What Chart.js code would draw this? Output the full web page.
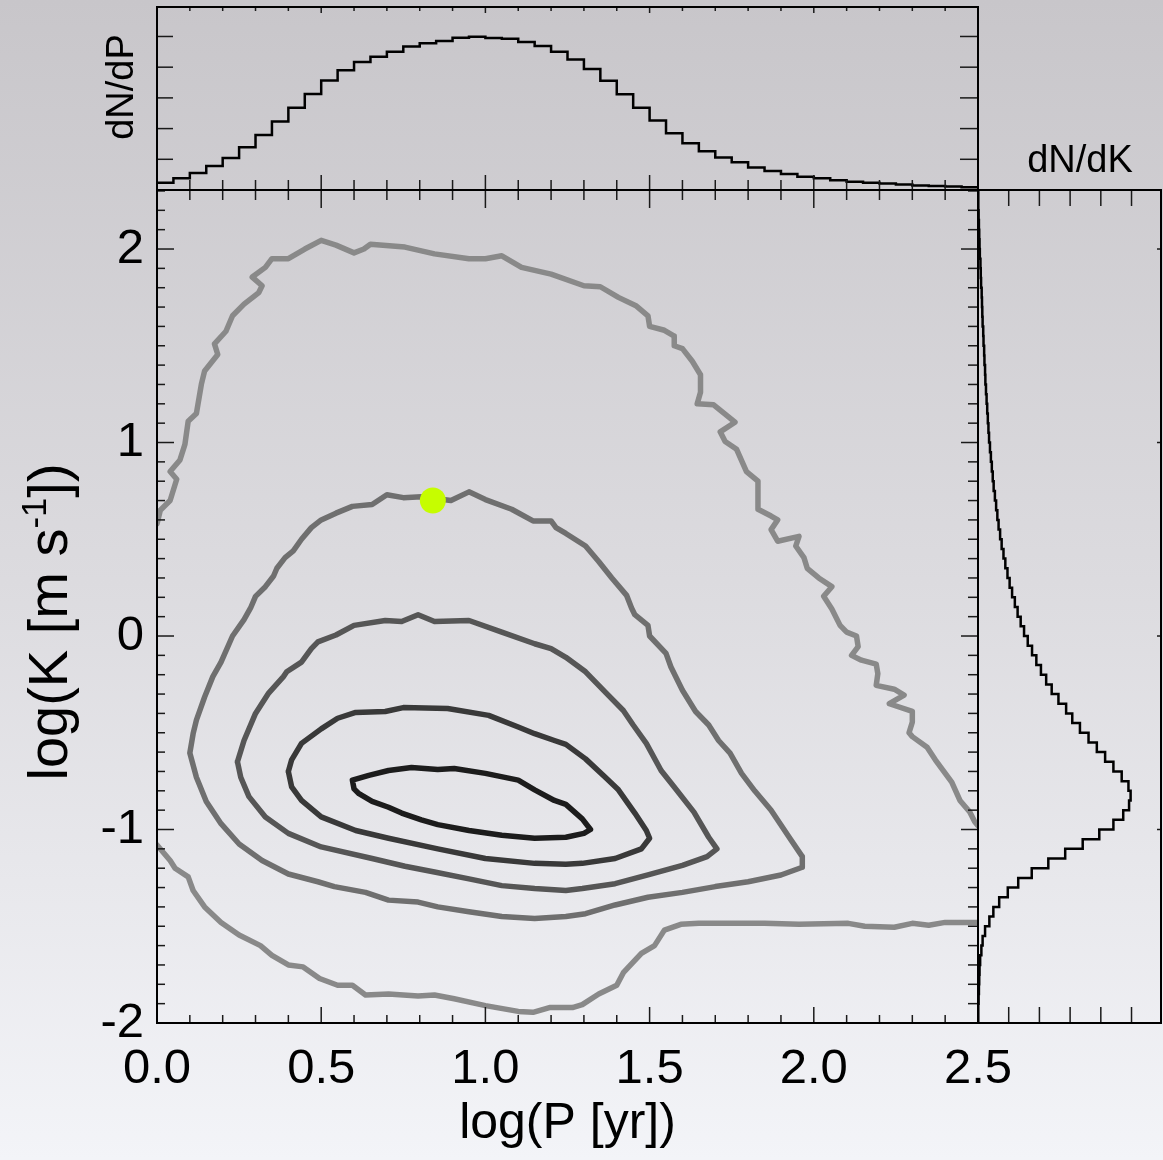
<!DOCTYPE html>
<html>
<head>
<meta charset="utf-8">
<script src="https://cdn.jsdelivr.net/npm/chart.js@4.4.1/dist/chart.umd.min.js"></script>
<style>
  html, body { margin: 0; padding: 0; }
  body {
    width: 1163px; height: 1160px; overflow: hidden; position: relative;
    background: linear-gradient(to bottom, #c8c6ca 0%, #dcdbdf 50%, #f3f4f8 100%);
  }
  canvas { position: absolute; left: 0; top: 0; }
</style>
</head>
<body>
<canvas id="mainChart" width="1163" height="1160"></canvas>
<canvas id="topChart" width="1163" height="1160"></canvas>
<canvas id="sideChart" width="1163" height="1160"></canvas>
<script>
// axis ticks
const pTicks = [0.0, 0.5, 1.0, 1.5, 2.0, 2.5];
const kTicks = [-2, -1, 0, 1, 2];

// marginal histogram of log P (bins of 0.05 starting at 0)
const pBinStart = 0;
const pBinWidth = 0.05;
const dNdP = [0.24, 0.38, 0.55, 0.78, 1.04, 1.39, 1.79, 2.23, 2.68, 3.13,
              3.57, 3.90, 4.17, 4.34, 4.50, 4.67, 4.78, 4.85, 4.96, 4.99,
              4.95, 4.93, 4.82, 4.69, 4.50, 4.25, 3.94, 3.56, 3.12, 2.68,
              2.26, 1.85, 1.52, 1.26, 1.06, 0.90, 0.73, 0.62, 0.52, 0.43,
              0.38, 0.32, 0.27, 0.24, 0.21, 0.18, 0.15, 0.13, 0.11, 0.09];

// marginal histogram of log K (bins of 0.05 starting at -2)
const kBinStart = -2;
const kBinWidth = 0.05;
const dNdK = [0.01, 0.01, 0.02, 0.03, 0.04, 0.05, 0.07, 0.11, 0.15, 0.23,
              0.37, 0.50, 0.69, 0.97, 1.31, 1.75, 2.29, 2.84, 3.41, 3.95,
              4.41, 4.73, 4.92, 4.97, 4.90, 4.68, 4.41, 4.14, 3.87, 3.60,
              3.32, 3.07, 2.87, 2.62, 2.40, 2.22, 2.05, 1.90, 1.76, 1.62,
              1.50, 1.39, 1.29, 1.20, 1.11, 1.03, 0.96, 0.89, 0.83, 0.77,
              0.72, 0.67, 0.63, 0.59, 0.55, 0.51, 0.48, 0.45, 0.42, 0.39,
              0.36, 0.34, 0.32, 0.30, 0.28, 0.26, 0.24, 0.23, 0.21, 0.20,
              0.18, 0.17, 0.15, 0.14, 0.13, 0.12, 0.10, 0.09, 0.08, 0.06,
              0.05, 0.04, 0.03, 0.02, 0.01, 0.01];

// best fit point [log P, log K]
const bestFit = [0.84, 0.70];

// contour levels, [log P, log K] pairs, outermost first
const outerUpper = [[0.0,0.58],[0.01,0.65],[0.04,0.70],[0.06,0.81],[0.04,0.85],[0.07,0.91],[0.085,0.99],
  [0.095,1.11],[0.12,1.15],[0.135,1.30],[0.145,1.37],[0.185,1.455],[0.175,1.51],[0.21,1.575],[0.23,1.655],
  [0.265,1.715],[0.31,1.775],[0.32,1.81],[0.29,1.855],[0.33,1.905],[0.35,1.95],[0.40,1.95],[0.45,2.0],
  [0.50,2.045],[0.545,2.02],[0.60,1.98],[0.63,2.0],[0.65,2.025],[0.755,2.01],[0.845,1.975],[0.95,1.95],
  [1.0,1.95],[1.05,1.965],[1.11,1.905],[1.20,1.87],[1.30,1.81],[1.35,1.805],[1.405,1.75],[1.46,1.705],
  [1.495,1.655],[1.50,1.60],[1.545,1.58],[1.575,1.55],[1.575,1.50],[1.60,1.485],[1.63,1.42],[1.655,1.35],
  [1.655,1.26],[1.645,1.20],[1.695,1.195],[1.76,1.105],[1.715,1.055],[1.73,1.005],[1.765,0.965],
  [1.795,0.85],[1.83,0.80],[1.83,0.655],[1.87,0.62],[1.89,0.60],[1.87,0.55],[1.89,0.49],[1.955,0.515],
  [1.945,0.465],[1.97,0.405],[1.98,0.35],[2.015,0.30],[2.055,0.255],[2.03,0.205],[2.055,0.14],
  [2.08,0.055],[2.10,0.02],[2.13,0.0],[2.135,-0.055],[2.115,-0.10],[2.145,-0.125],[2.19,-0.145],
  [2.195,-0.195],[2.19,-0.255],[2.245,-0.275],[2.275,-0.305],[2.23,-0.35],[2.30,-0.39],[2.30,-0.445],
  [2.29,-0.50],[2.30,-0.52],[2.345,-0.575],[2.37,-0.64],[2.42,-0.755],[2.445,-0.85],[2.475,-0.91],
  [2.49,-0.96],[2.5,-0.98]];
const outerLower = [[0,-1.08],[0.04,-1.16],[0.055,-1.20],[0.095,-1.245],[0.11,-1.315],[0.145,-1.40],
  [0.195,-1.48],[0.25,-1.545],[0.315,-1.60],[0.35,-1.65],[0.40,-1.70],[0.445,-1.71],[0.495,-1.77],
  [0.55,-1.805],[0.595,-1.805],[0.635,-1.855],[0.705,-1.85],[0.795,-1.86],[0.845,-1.855],[0.905,-1.875],
  [1.0,-1.91],[1.10,-1.94],[1.145,-1.945],[1.195,-1.92],[1.265,-1.92],[1.295,-1.905],[1.345,-1.85],
  [1.40,-1.805],[1.42,-1.74],[1.475,-1.64],[1.515,-1.60],[1.545,-1.52],[1.595,-1.49],[1.65,-1.485],
  [1.85,-1.485],[1.955,-1.49],[2.105,-1.485],[2.155,-1.50],[2.245,-1.505],[2.30,-1.485],[2.35,-1.495],
  [2.40,-1.48],[2.5,-1.48]];
const level2 = [[0.285,0.145],[0.30,0.205],[0.33,0.255],[0.355,0.31],[0.365,0.35],[0.39,0.405],
  [0.415,0.44],[0.44,0.50],[0.47,0.56],[0.50,0.60],[0.545,0.635],[0.595,0.67],[0.655,0.68],[0.70,0.73],
  [0.75,0.715],[0.805,0.72],[0.895,0.70],[0.95,0.745],[1.0,0.705],[1.08,0.655],[1.145,0.595],[1.20,0.595],
  [1.215,0.56],[1.245,0.53],[1.305,0.465],[1.345,0.385],[1.385,0.30],[1.43,0.21],[1.445,0.145],
  [1.455,0.11],[1.495,0.055],[1.50,0.0],[1.55,-0.09],[1.565,-0.16],[1.60,-0.28],[1.64,-0.39],[1.68,-0.46],
  [1.71,-0.54],[1.745,-0.605],[1.78,-0.71],[1.82,-0.80],[1.87,-0.90],[1.925,-1.04],[1.965,-1.14],
  [1.965,-1.195],[1.90,-1.235],[1.80,-1.27],[1.70,-1.295],[1.60,-1.325],[1.495,-1.35],[1.395,-1.39],
  [1.305,-1.435],[1.245,-1.45],[1.15,-1.46],[1.05,-1.45],[0.95,-1.425],[0.855,-1.40],[0.795,-1.375],
  [0.705,-1.365],[0.635,-1.325],[0.54,-1.295],[0.49,-1.27],[0.40,-1.23],[0.32,-1.16],[0.25,-1.075],
  [0.195,-0.97],[0.15,-0.855],[0.12,-0.73],[0.10,-0.605],[0.11,-0.505],[0.12,-0.435],[0.145,-0.315],
  [0.17,-0.21],[0.195,-0.135],[0.23,0.0],[0.265,0.085],[0.285,0.145]];
const level3 = [[0.245,-0.65],[0.265,-0.54],[0.30,-0.40],[0.34,-0.295],[0.385,-0.21],[0.395,-0.185],
  [0.44,-0.135],[0.47,-0.065],[0.49,-0.03],[0.545,0.005],[0.60,0.055],[0.695,0.08],[0.745,0.075],
  [0.795,0.11],[0.845,0.075],[0.95,0.08],[1.05,0.02],[1.15,-0.04],[1.20,-0.065],[1.245,-0.11],
  [1.305,-0.185],[1.365,-0.29],[1.42,-0.385],[1.45,-0.46],[1.49,-0.555],[1.535,-0.695],[1.575,-0.78],
  [1.635,-0.91],[1.68,-1.04],[1.705,-1.10],[1.675,-1.14],[1.60,-1.185],[1.495,-1.235],[1.395,-1.28],
  [1.295,-1.305],[1.245,-1.315],[1.15,-1.305],[1.05,-1.29],[0.95,-1.255],[0.845,-1.22],[0.755,-1.19],
  [0.655,-1.15],[0.50,-1.09],[0.40,-1.02],[0.33,-0.935],[0.28,-0.83],[0.255,-0.73],[0.245,-0.65]];
const level4 = [[0.40,-0.70],[0.41,-0.64],[0.44,-0.555],[0.50,-0.48],[0.55,-0.425],[0.605,-0.395],
  [0.695,-0.39],[0.75,-0.37],[0.885,-0.375],[1.01,-0.41],[1.10,-0.47],[1.15,-0.505],[1.21,-0.54],
  [1.245,-0.56],[1.305,-0.635],[1.365,-0.73],[1.405,-0.795],[1.455,-0.915],[1.49,-1.005],[1.50,-1.045],
  [1.475,-1.10],[1.395,-1.15],[1.295,-1.175],[1.245,-1.18],[1.15,-1.175],[1.0,-1.15],[0.855,-1.10],
  [0.705,-1.045],[0.605,-1.005],[0.50,-0.935],[0.44,-0.85],[0.41,-0.78],[0.40,-0.70]];
const level5 = [[0.595,-0.745],[0.645,-0.72],[0.705,-0.695],[0.775,-0.68],[0.855,-0.69],[0.905,-0.685],
  [1.0,-0.71],[1.10,-0.745],[1.15,-0.795],[1.21,-0.85],[1.245,-0.87],[1.295,-0.945],[1.32,-1.0],
  [1.30,-1.02],[1.245,-1.04],[1.15,-1.045],[1.05,-1.03],[0.95,-1.005],[0.855,-0.975],[0.805,-0.95],
  [0.745,-0.915],[0.705,-0.885],[0.655,-0.855],[0.615,-0.815],[0.60,-0.79],[0.595,-0.745]];

const contours = [outerUpper, outerLower, level2, level3, level4, level5];
const contourColors = ['#898989', '#898989', '#6f6f6f', '#565656', '#393939', '#1c1c1c'];

const FONT = 'Liberation Sans, Arial, Helvetica, sans-serif';
Chart.defaults.font.family = FONT;
Chart.defaults.color = '#000';

// frame box, inward tick marks and panel labels (parts may be superscript)
const frameTicks = {
    id: 'frameTicks',
    afterDatasetsDraw(chart, args, opts) {
        const { ctx, chartArea: a, scales } = chart;
        ctx.save();
        ctx.strokeStyle = '#1a1a1a';
        ctx.lineWidth = 1.5;
        (opts.marks || []).forEach(m => {
            const sc = scales[m.scale];
            const n = Math.round((m.to - m.from) / m.step);
            for (let i = 0; i <= n; i++) {
                const p = sc.getPixelForValue(m.from + i * m.step);
                const len = (m.every && i % m.every === 0) ? m.major : m.minor;
                ctx.beginPath();
                if (m.side === 'bottom') { ctx.moveTo(p, a.bottom); ctx.lineTo(p, a.bottom - len); }
                if (m.side === 'top') { ctx.moveTo(p, a.top); ctx.lineTo(p, a.top + len); }
                if (m.side === 'left') { ctx.moveTo(a.left, p); ctx.lineTo(a.left + len, p); }
                if (m.side === 'right') { ctx.moveTo(a.right, p); ctx.lineTo(a.right - len, p); }
                ctx.stroke();
            }
        });
        ctx.strokeStyle = '#000';
        ctx.lineWidth = 2;
        ctx.strokeRect(a.left, a.top, a.width, a.height);

        (opts.labels || []).forEach(l => {
            ctx.save();
            ctx.fillStyle = '#000';
            ctx.textAlign = 'left';
            ctx.textBaseline = 'alphabetic';
            ctx.translate(a.left + l.dx, a.top + l.dy);
            if (l.rotate) ctx.rotate(l.rotate);
            const parts = l.parts.map(p => {
                const size = p.sup ? l.size * 0.62 : l.size;
                ctx.font = size + 'px ' + FONT;
                return { ...p, size, w: ctx.measureText(p.t).width };
            });
            let x = -parts.reduce((s, p) => s + p.w, 0) / 2;
            parts.forEach(p => {
                ctx.font = p.size + 'px ' + FONT;
                ctx.fillText(p.t, x, p.sup ? -l.size * 0.38 : 0);
                x += p.w;
            });
            ctx.restore();
        });
        ctx.restore();
    }
};

const baseOpts = {
    responsive: false,
    animation: false,
    devicePixelRatio: 1,
    events: [],
};

// main contour panel
new Chart(document.getElementById('mainChart'), {
    type: 'scatter',
    plugins: [frameTicks],
    data: {
        datasets: [
            {
                data: [{ x: bestFit[0], y: bestFit[1] }],
                pointRadius: 13,
                backgroundColor: '#c6fd00',
                borderWidth: 0,
                showLine: false
            },
            ...contours.map((c, i) => ({
                data: c.map(([x, y]) => ({ x, y })),
                showLine: true,
                pointRadius: 0,
                borderColor: contourColors[i],
                borderWidth: 5.5,
                borderJoinStyle: 'round',
                borderCapStyle: 'round',
                tension: 0
            }))
        ]
    },
    options: {
        ...baseOpts,
        layout: { padding: { left: 0, top: 190, right: 185, bottom: 0 } },
        plugins: {
            legend: { display: false },
            tooltip: { enabled: false },
            frameTicks: {
                marks: [
                    { scale: 'x', side: 'bottom', from: 0, to: 2.5, step: 0.1, every: 5, minor: 8, major: 16 },
                    { scale: 'x', side: 'top', from: 0, to: 2.5, step: 0.1, every: 5, minor: 10, major: 18 },
                    { scale: 'y', side: 'left', from: -2, to: 2.3, step: 0.1, every: 10, minor: 8, major: 17 },
                    { scale: 'y', side: 'right', from: -2, to: 2.3, step: 0.1, every: 10, minor: 10, major: 17 }
                ],
                labels: [{
                    parts: [{ t: 'log(K [m s' }, { t: '-1', sup: true }, { t: '])' }],
                    size: 56, dx: -90, dy: 432, rotate: -Math.PI / 2
                }]
            }
        },
        scales: {
            x: {
                type: 'linear', min: 0, max: 2.5,
                grid: { display: false, drawTicks: false },
                border: { display: false },
                afterBuildTicks: s => { s.ticks = pTicks.map(v => ({ value: v })); },
                afterFit: s => { s.height = 137; },
                ticks: { padding: 17, font: { size: 49 }, color: '#000', callback: v => Number(v).toFixed(1) },
                title: { display: true, text: 'log(P [yr])', font: { size: 50 }, color: '#000', padding: { top: 0, bottom: 6 } }
            },
            y: {
                type: 'linear', min: -2, max: 2.305,
                grid: { display: false, drawTicks: false },
                border: { display: false },
                afterBuildTicks: s => { s.ticks = kTicks.map(v => ({ value: v })); },
                afterFit: s => { s.width = 157; },
                ticks: { padding: 13, font: { size: 49 }, color: '#000', callback: v => String(v) }
            }
        }
    }
});

// top marginal: dN/dP
const pPoints = dNdP.map((v, i) => ({ x: pBinStart + i * pBinWidth, y: v }));
pPoints.push({ x: pBinStart + dNdP.length * pBinWidth, y: dNdP[dNdP.length - 1] });

new Chart(document.getElementById('topChart'), {
    type: 'scatter',
    plugins: [frameTicks],
    data: {
        datasets: [{
            data: pPoints,
            showLine: true,
            stepped: true,
            pointRadius: 0,
            borderColor: '#000',
            borderWidth: 2.5
        }]
    },
    options: {
        ...baseOpts,
        layout: { padding: { left: 157, top: 7, right: 185, bottom: 970 } },
        plugins: {
            legend: { display: false },
            tooltip: { enabled: false },
            frameTicks: {
                marks: [
                    { scale: 'x', side: 'bottom', from: 0, to: 2.5, step: 0.1, every: 5, minor: 10, major: 15 },
                    { scale: 'x', side: 'top', from: 0, to: 2.5, step: 0.1, every: 5, minor: 4, major: 6 },
                    { scale: 'y', side: 'left', from: 1, to: 5, step: 1, minor: 16 },
                    { scale: 'y', side: 'right', from: 1, to: 5, step: 1, minor: 18 }
                ],
                labels: [{ parts: [{ t: 'dN/dP' }], size: 38, dx: -24, dy: 80, rotate: -Math.PI / 2 }]
            }
        },
        scales: {
            x: { type: 'linear', min: 0, max: 2.5, display: false },
            y: { type: 'linear', min: 0, max: 5.96, display: false }
        }
    }
});

// side marginal: dN/dK
const kPoints = dNdK.map((v, i) => ({ x: v, y: kBinStart + i * kBinWidth }));
kPoints.push({ x: dNdK[dNdK.length - 1], y: kBinStart + dNdK.length * kBinWidth });

new Chart(document.getElementById('sideChart'), {
    type: 'scatter',
    plugins: [frameTicks],
    data: {
        datasets: [{
            data: kPoints,
            showLine: true,
            stepped: 'after',
            pointRadius: 0,
            borderColor: '#000',
            borderWidth: 2.5
        }]
    },
    options: {
        ...baseOpts,
        layout: { padding: { left: 978, top: 190, right: 2, bottom: 137 } },
        plugins: {
            legend: { display: false },
            tooltip: { enabled: false },
            frameTicks: {
                marks: [
                    { scale: 'x', side: 'bottom', from: 1, to: 5, step: 1, minor: 16 },
                    { scale: 'x', side: 'top', from: 1, to: 5, step: 1, minor: 16 },
                    { scale: 'y', side: 'right', from: -2, to: 2, step: 1, minor: 4 }
                ],
                labels: [{ parts: [{ t: 'dN/dK' }], size: 38, dx: 102, dy: -18 }]
            }
        },
        scales: {
            x: { type: 'linear', min: 0, max: 5.96, display: false },
            y: { type: 'linear', min: -2, max: 2.305, display: false }
        }
    }
});
</script>
</body>
</html>
